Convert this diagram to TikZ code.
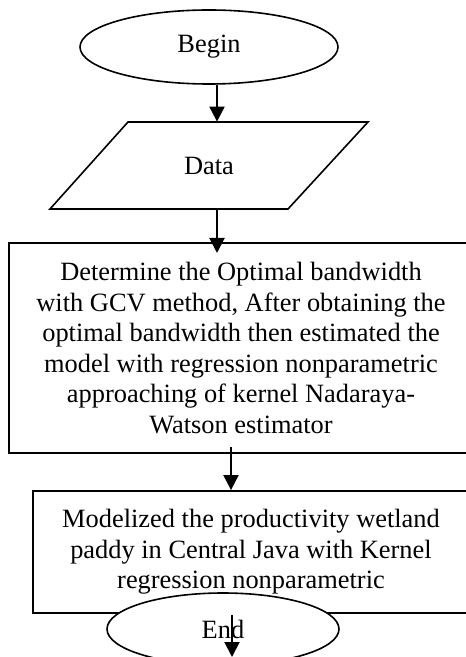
\documentclass[tikz,border=0pt]{standalone}
\usepackage{fontspec}
\setmainfont{Liberation Serif}
\usetikzlibrary{arrows.meta,shapes.geometric}

\begin{document}
\begin{tikzpicture}[x=0.5pt, y=-0.5pt, >={Triangle[length=7.5pt,width=7.5pt]},
  font=\fontsize{13.2}{15.25}\selectfont,
  terminal/.style={draw, ellipse, line width=0.8pt, fill=white, inner sep=0pt},
  io/.style={inner sep=0pt, minimum width=120pt, minimum height=43.5pt},
  process/.style={draw, rectangle, line width=0.9pt, align=center, inner sep=0pt},
  flow/.style={->, line width=1pt}]
\useasboundingbox (0,0) rectangle (465,657);
% shapes
\node[terminal, minimum width=129pt, minimum height=37pt] (begin) at (209,47) {Begin};
\draw[line width=0.8pt] (128,122) -- (368,122) -- (288,209) -- (50,209) -- cycle;
\node[io] (data) at (209,165.5) {Data};
\node[process, minimum width=232pt, minimum height=105pt] (gcv) at (241,348) {Determine the Optimal bandwidth\\
with GCV method, After obtaining the\\
optimal bandwidth then estimated the\\
model with regression nonparametric\\
approaching of kernel Nadaraya-\\
Watson estimator};
\node[process, minimum width=218pt, minimum height=61pt] (model) at (251,552) {Modelized the productivity wetland\\
paddy in Central Java with Kernel\\
regression nonparametric};
\node[terminal, minimum width=116pt, minimum height=36pt] (end) at (223,629) {End};
% arrows
\coordinate (gcvin) at (217,253);
\coordinate (gcvout) at (231,447);
\coordinate (modelout) at (232,615);
\coordinate (endout) at (232,657);
\draw[flow] ([xshift=4pt]begin.south) -- ([xshift=4pt]data.north);
\draw[flow] ([xshift=4pt]data.south) -- (gcvin);
\draw[flow] (gcvout) -- (gcvout |- model.north);
\draw[flow] (modelout) -- (endout);
\end{tikzpicture}
\end{document}
